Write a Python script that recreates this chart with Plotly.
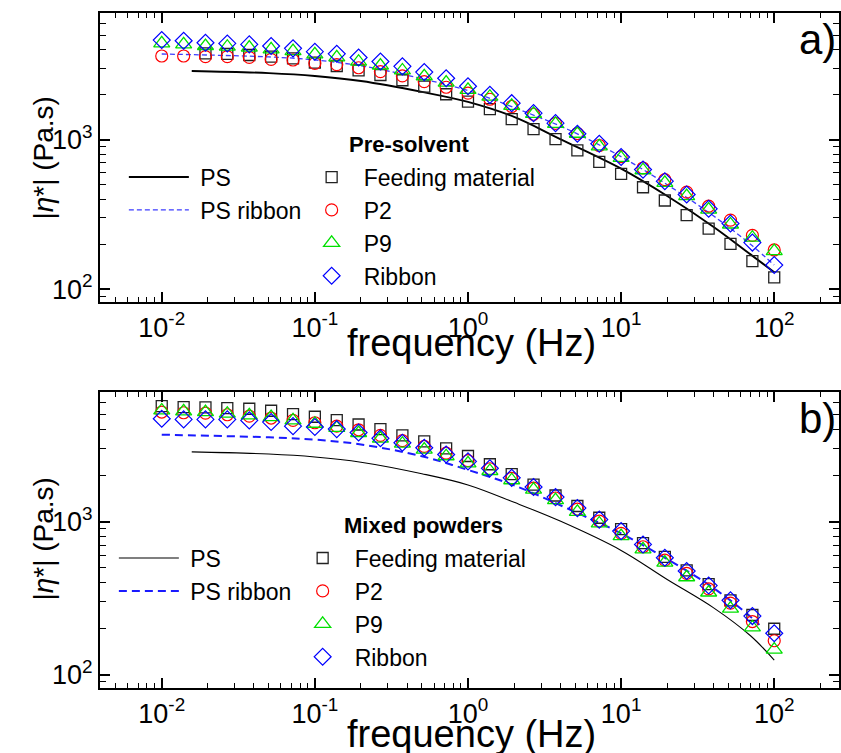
import plotly.graph_objects as go

FONT = "Liberation Sans, Arial, Helvetica, sans-serif"

# ---------------- data ----------------
freq = [0.01, 0.0139, 0.0193, 0.0268, 0.0373, 0.0518, 0.0720, 0.1, 0.139, 0.193,
        0.268, 0.373, 0.518, 0.720, 1.0, 1.39, 1.93, 2.68, 3.73, 5.18,
        7.20, 10, 13.9, 19.3, 26.8, 37.3, 51.8, 72.0, 100]

# (a) Pre-solvent
a_ps_freq = [0.0157, 0.05, 0.1, 0.2, 0.5, 1.0, 2.0, 4.0, 10, 20, 40, 70, 100]
a_ps = [2884, 2790, 2670, 2470, 2090, 1790, 1420, 1010, 640, 420, 262, 171, 130]
a_rib_freq = [0.01, 0.05, 0.1, 0.22, 0.5, 1.0, 2.0, 4.5, 10, 20, 40, 72, 100]
a_rib = [3745, 3580, 3420, 3070, 2560, 2130, 1640, 1170, 770, 500, 310, 195, 145]
a_feed_freq = freq[2:]
a_feed = [3784, 3750, 3687, 3594, 3501, 3280, 3113, 2910, 2711, 2500, 2268, 2015,
          1796, 1600, 1373, 1178, 1010, 849, 710, 590, 481, 392, 313, 254, 201, 154, 120]
a_p2 = [3631, 3631, 3594, 3594, 3557, 3450, 3415, 3243, 3180, 3030, 2855, 2673, 2449,
        2245, 2048, 1866, 1668, 1480, 1285, 1100, 915, 770, 647, 541, 446, 359, 290, 229, 183]
a_p9 = [4407, 4343, 4236, 4190, 4130, 4020, 3920, 3726, 3555, 3326, 3137, 2906, 2659,
        2408, 2155, 1940, 1686, 1490, 1278, 1096, 903, 755, 625, 514, 419, 341, 271, 221, 180]
a_ribbon = [4642, 4592, 4456, 4407, 4343, 4236, 4085, 3882, 3755, 3548, 3335, 3097, 2834,
            2577, 2280, 1996, 1756, 1506, 1291, 1096, 940, 766, 631, 528, 430, 345, 275, 205, 145]

# (b) Mixed powders
b_ps_freq = [0.0157, 0.05, 0.1, 0.2, 0.5, 1.0, 2.0, 4.0, 10, 20, 40, 70, 100]
b_ps = [2860, 2770, 2650, 2450, 2060, 1740, 1340, 1010, 650, 420, 275, 180, 125]
b_rib_freq = [0.01, 0.05, 0.1, 0.2, 0.5, 1.0, 2.0, 5.0, 10, 20, 40, 70, 80]
b_rib = [3705, 3560, 3440, 3200, 2680, 2180, 1730, 1160, 840, 570, 370, 240, 212]
b_feed = [5700, 5610, 5585, 5530, 5475, 5310, 5050, 4855, 4610, 4320, 4025, 3670, 3355,
          3013, 2690, 2376, 2046, 1751, 1485, 1268, 1062, 896, 726, 589, 482, 391, 307, 246, 200]
b_p2 = [5210, 5155, 5130, 5000, 4900, 4760, 4595, 4435, 4210, 3990, 3670, 3390, 3105,
        2810, 2510, 2220, 1920, 1660, 1430, 1210, 1010, 839, 687, 562, 460, 364, 294, 223, 167]
b_p9 = [5335, 5260, 5210, 5080, 4955, 4830, 4595, 4370, 4100, 3800, 3490, 3236, 2960,
        2680, 2410, 2147, 1868, 1624, 1384, 1162, 975, 807, 661, 541, 434, 345, 271, 204, 146]
b_ribbon = [4710, 4665, 4665, 4665, 4595, 4480, 4215, 4155, 4030, 3830, 3510, 3280, 3045,
            2749, 2480, 2238, 1936, 1688, 1449, 1228, 1033, 869, 711, 582, 477, 383, 307, 242, 187]

xtick_vals = [0.01, 0.1, 1, 10, 100]
xtick_text = ["10<sup>-2</sup>", "10<sup>-1</sup>", "10<sup>0</sup>", "10<sup>1</sup>", "10<sup>2</sup>"]
ytick_vals = [100, 1000]
ytick_text = ["10<sup>2</sup>", "10<sup>3</sup>"]

panel_names = ["Pre-solvent", "Mixed powders"]
panel_labels = ["a)", "b)"]
line_names = ["PS", "PS ribbon"]
series_names = ["Feeding material", "P2", "P9", "Ribbon"]

# ---------------- figure ----------------
W, H = 841, 753
fig = go.Figure()

marker_styles = [
    dict(symbol="square-open", size=11, color="#222222", line=dict(width=1.3)),
    dict(symbol="circle-open", size=12, color="#ff0000", line=dict(width=1.2)),
    dict(symbol="triangle-up-open", size=14, color="#00e000", line=dict(width=1.3)),
    dict(symbol="diamond-open", size=13, color="#0000ff", line=dict(width=1.2)),
]


def add_panel(xa, ya, leg_lines, leg_marks, ps_f, ps_v, rib_f, rib_v, feed_f, sets,
              ps_w, rib_style):
    # a leading space reproduces the gap between the line sample and its text
    fig.add_trace(go.Scatter(x=ps_f, y=ps_v, mode="lines", name=" " + line_names[0],
                             line=dict(color="black", width=ps_w, shape="spline"),
                             xaxis=xa, yaxis=ya, legend=leg_lines))
    fig.add_trace(go.Scatter(x=rib_f, y=rib_v, mode="lines", name=" " + line_names[1],
                             line=dict(shape="spline", **rib_style),
                             xaxis=xa, yaxis=ya, legend=leg_lines))
    xs = [feed_f, freq, freq, freq]
    for name, xv, yv, ms in zip(series_names, xs, sets, marker_styles):
        fig.add_trace(go.Scatter(x=xv, y=yv, mode="markers", name=name,
                                 marker=ms, xaxis=xa, yaxis=ya, legend=leg_marks))


add_panel("x", "y", "legend", "legend2", a_ps_freq, a_ps, a_rib_freq, a_rib,
          a_feed_freq, [a_feed, a_p2, a_p9, a_ribbon], 1.9,
          dict(color="#3c3cff", width=1.3, dash="5px,3px"))
add_panel("x2", "y2", "legend3", "legend4", b_ps_freq, b_ps, b_rib_freq, b_rib,
          freq, [b_feed, b_p2, b_p9, b_ribbon], 1.1,
          dict(color="#1a1aff", width=2, dash="8px,5px"))

minor_x = [d * 10 ** e for e in range(-3, 3) for d in range(2, 10)]
minor_y = [d * 10 ** e for e in range(1, 4) for d in range(2, 10)]

xbase = dict(type="log", range=[-2.404, 2.423], domain=[100 / W, 840 / W],
             showline=True, linecolor="black", linewidth=2, mirror="allticks",
             ticks="inside", ticklen=10, tickwidth=1.5, tickcolor="black",
             tickmode="array", tickvals=xtick_vals, ticktext=xtick_text,
             tickfont=dict(size=27, family=FONT, color="black"),
             minor=dict(ticks="inside", ticklen=5, tickwidth=1.2, tickcolor="black",
                        tickvals=minor_x),
             showgrid=False, zeroline=False)
ybase = dict(type="log", range=[1.913, 3.848],
             showline=True, linecolor="black", linewidth=2, mirror="allticks",
             ticks="inside", ticklen=10, tickwidth=1.5, tickcolor="black",
             tickmode="array", tickvals=ytick_vals, ticktext=ytick_text,
             tickfont=dict(size=27, family=FONT, color="black"),
             minor=dict(ticks="inside", ticklen=6, tickwidth=1.2, tickcolor="black",
                        tickvals=minor_y),
             showgrid=False, zeroline=False)

leg_common = dict(bgcolor="rgba(0,0,0,0)", borderwidth=0, xanchor="left", yanchor="top",
                  font=dict(size=23, family=FONT, color="black"), tracegroupgap=0,
                  traceorder="normal")

fig.update_layout(
    width=W, height=H, autosize=False,
    margin=dict(l=0, r=0, t=0, b=0),
    paper_bgcolor="white", plot_bgcolor="white",
    showlegend=True,
    xaxis=dict(xbase, anchor="y"),
    yaxis=dict(ybase, anchor="x", domain=[1 - 303 / H, 1 - 13 / H]),
    xaxis2=dict(xbase, anchor="y2"),
    yaxis2=dict(ybase, anchor="x2", domain=[1 - 690 / H, 1 - 393 / H]),
    legend=dict(leg_common, x=124 / W, y=1 - 156 / H, itemwidth=60),
    legend2=dict(leg_common, x=300 / W, y=1 - 156 / H, itemwidth=54),
    legend3=dict(leg_common, x=114 / W, y=1 - 538 / H, itemwidth=60),
    legend4=dict(leg_common, x=291 / W, y=1 - 538 / H, itemwidth=54),
)

ytitle = "|<i>η</i>*| (Pa.s)"
ann = []
for yc in (158, 540):
    ann.append(dict(text=ytitle, x=44 / W, y=1 - yc / H, xref="paper", yref="paper",
                    showarrow=False, textangle=-90, xanchor="center", yanchor="middle",
                    font=dict(size=28, family=FONT, color="black")))
for yc in (344, 736):
    ann.append(dict(text="frequency (Hz)", x=472 / W, y=1 - yc / H, xref="paper", yref="paper",
                    showarrow=False, xanchor="center", yanchor="middle",
                    font=dict(size=38, family=FONT, color="black")))
for lab, yc in zip(panel_labels, (40, 420)):
    ann.append(dict(text=lab, x=818 / W, y=1 - yc / H, xref="paper", yref="paper",
                    showarrow=False, xanchor="center", yanchor="middle",
                    font=dict(size=42, family=FONT, color="black")))
for name, (xl, yc) in zip(panel_names, ((347, 145), (342, 527))):
    ann.append(dict(text="<b>" + name + "</b>", x=xl / W, y=1 - yc / H, xref="paper",
                    yref="paper", showarrow=False, xanchor="left", yanchor="middle",
                    font=dict(size=22, family=FONT, color="black")))
fig.update_layout(annotations=ann)

fig.write_html("out.html", config={"displayModeBar": False},
               post_script="document.body.style.margin='0px';")
